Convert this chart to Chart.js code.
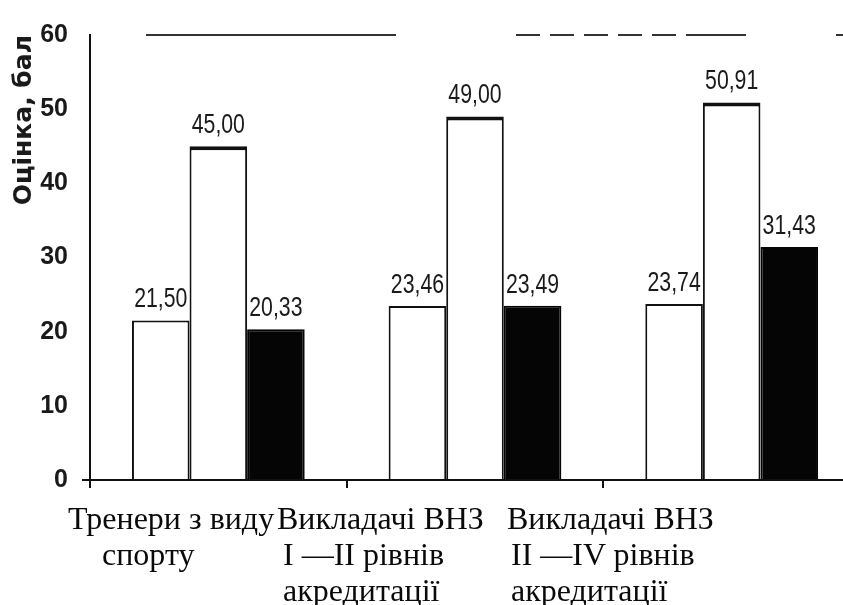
<!DOCTYPE html>
<html>
<head>
<meta charset="utf-8">
<script src="https://cdn.jsdelivr.net/npm/chart.js@4.4.1/dist/chart.umd.min.js"></script>
<style>
  body { margin: 0; background: #fff; overflow: hidden; width: 843px; height: 605px; position: relative; }
  #wrap { position: absolute; left: 0; top: 0; width: 860px; height: 509px; }
  #labels { position: absolute; left: 0; top: 500px; font-family: 'Liberation Serif', 'Times New Roman', serif; font-size: 32px; line-height: 36px; color: #0a0a0a; }
  .col { position: absolute; top: 0; white-space: nowrap; }
</style>
</head>
<body>
<div id="wrap"><canvas id="scoreChart" width="860" height="509"></canvas></div>
<div id="labels"></div>
<script>
// categories (one line per array item) and the three series
const categories = [
    ['Тренери з виду', 'спорту'],
    ['Викладачі ВНЗ', 'I —II рівнів', 'акредитації'],
    ['Викладачі ВНЗ', 'II —IV рівнів', 'акредитації']
];
const seriesA = [21.50, 23.46, 23.74];
const seriesB = [45.00, 49.00, 50.91];
const seriesC = [20.33, 23.49, 31.43];
const yTicks = [0, 10, 20, 30, 40, 50, 60];

const sans = "'Liberation Sans', Arial, sans-serif";

// values printed above each bar, decimal comma, squeezed like the narrow print face
const valueLabels = {
    id: 'valueLabels',
    afterDatasetsDraw(chart) {
        const ctx = chart.ctx;
        chart.data.datasets.forEach((ds, i) => {
            chart.getDatasetMeta(i).data.forEach((bar, j) => {
                ctx.save();
                ctx.translate(bar.x, bar.y - 7);
                ctx.scale(0.76, 1);
                ctx.font = "28px " + sans;
                ctx.fillStyle = '#1a1a1a';
                ctx.textAlign = 'center';
                ctx.textBaseline = 'bottom';
                ctx.fillText(ds.data[j].toFixed(2).replace('.', ','), 0, 0);
                ctx.restore();
            });
        });
    }
};

const ctx1 = document.getElementById('scoreChart').getContext('2d');
const scoreChart = new Chart(ctx1, {
    type: 'bar',
    data: {
        labels: categories,
        datasets: [{
            label: 'Серія 1',
            data: seriesA,
            backgroundColor: '#ffffff',
            borderColor: '#111111',
            borderWidth: 2
        }, {
            label: 'Серія 2',
            data: seriesB,
            backgroundColor: '#ffffff',
            borderColor: '#111111',
            borderWidth: { top: 4, left: 2, right: 2, bottom: 0 }
        }, {
            label: 'Серія 3',
            data: seriesC,
            backgroundColor: '#050505',
            borderColor: '#050505',
            borderWidth: 2
        }]
    },
    options: {
        responsive: false,
        animation: false,
        devicePixelRatio: 1,
        layout: { padding: { top: 35, right: 0, bottom: 0, left: 0 } },
        plugins: {
            legend: { display: false },
            tooltip: { enabled: false }
        },
        datasets: {
            bar: { categoryPercentage: 0.673, barPercentage: 1.0 }
        },
        scales: {
            x: {
                ticks: { display: false },
                grid: { drawOnChartArea: false, drawTicks: true, tickLength: 8, color: '#111', lineWidth: 2 },
                border: { color: '#111', width: 2 }
            },
            y: {
                min: yTicks[0],
                max: yTicks[yTicks.length - 1],
                afterFit: (scale) => { scale.width = 90; },
                ticks: {
                    stepSize: yTicks[1] - yTicks[0],
                    padding: 14,
                    color: '#1a1a1a',
                    font: { family: sans, size: 25, weight: 'bold' }
                },
                grid: {
                    drawTicks: true,
                    tickLength: 8,
                    lineWidth: 2,
                    color: (c) => c.tick && c.tick.value === 60 ? '#333' : (c.tick && c.tick.value === 0 ? '#111' : 'transparent'),
                    tickColor: (c) => c.tick && c.tick.value === 0 ? '#111' : 'transparent'
                },
                border: {
                    color: '#111',
                    width: 2,
                    dash: [0, 55, 250, 120, 24, 10, 24, 10, 24, 10, 24, 10, 24, 10, 60, 90, 24, 10, 24, 10]
                },
                title: {
                    display: true,
                    text: 'Оцінка, бал',
                    align: 'end',
                    color: '#1a1a1a',
                    padding: { top: 9, bottom: 0 },
                    font: { family: "'DejaVu Sans', sans-serif", size: 25, weight: 'bold' }
                }
            }
        }
    },
    plugins: [valueLabels]
});

// category captions under the axis, typeset as in the source document
const captionLeft = [68, 277, 507];
const captionIndent = [34, 6, 4];
const labelBox = document.getElementById('labels');
categories.forEach((lines, i) => {
    const col = document.createElement('div');
    col.className = 'col';
    col.style.left = captionLeft[i] + 'px';
    lines.forEach((line, k) => {
        const row = document.createElement('div');
        row.textContent = line;
        if (k > 0) row.style.paddingLeft = captionIndent[i] + 'px';
        col.appendChild(row);
    });
    labelBox.appendChild(col);
});
</script>
</body>
</html>
